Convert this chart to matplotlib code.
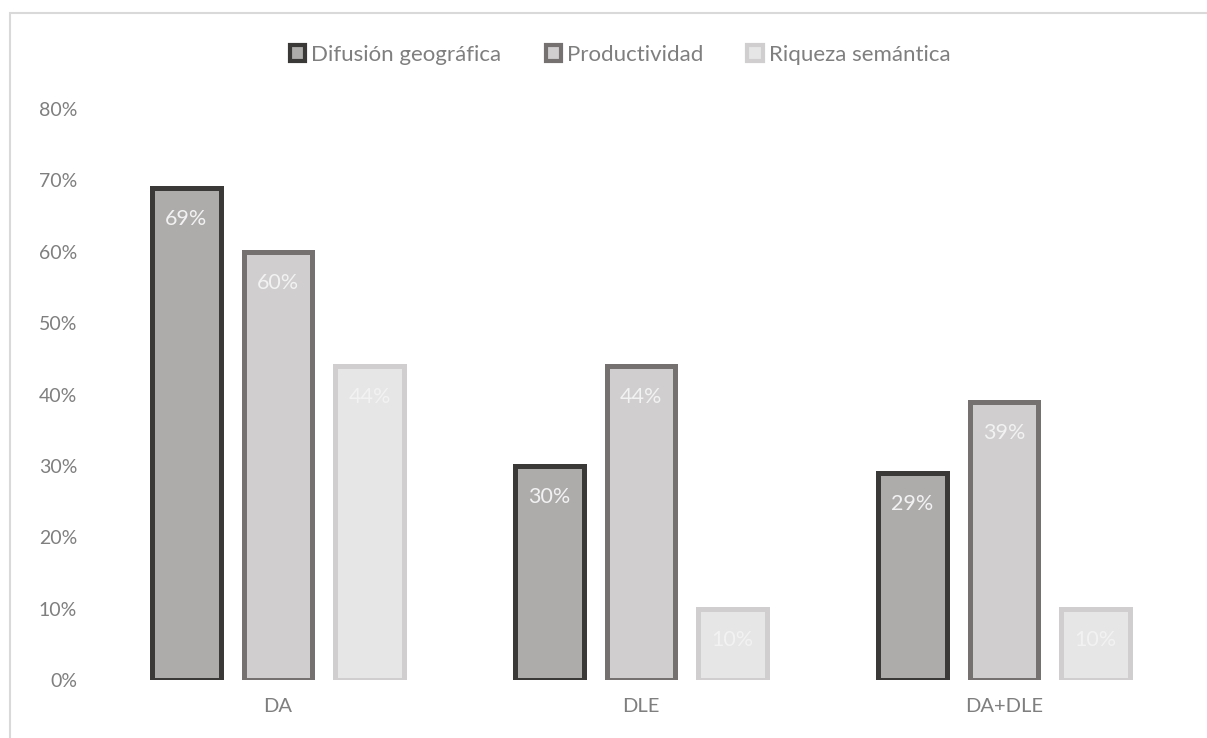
import matplotlib
matplotlib.use("Agg")
import matplotlib.pyplot as plt
from matplotlib.patches import Patch, Rectangle
import numpy as np

plt.rcParams['font.family'] = ['Lato', 'DejaVu Sans']

categories = ["DA", "DLE", "DA+DLE"]
series_names = ["Difusión geográfica", "Productividad", "Riqueza semántica"]
difusion = [0.69, 0.30, 0.29]
productividad = [0.60, 0.44, 0.39]
riqueza = [0.44, 0.10, 0.10]
yticks = [0.0, 0.1, 0.2, 0.3, 0.4, 0.5, 0.6, 0.7, 0.8]

faces = ["#AEABAB", "#D0CECE", "#E7E6E6"]
edges = ["#3B3838", "#767171", "#D0CECE"]
text_gray = "#7F7F7F"

fig = plt.figure(figsize=(12.07, 7.38), dpi=100)
ax = fig.add_axes([96.5 / 1207, 1 - 680 / 738, 1089 / 1207, (680 - 109) / 738])

x = np.arange(len(categories))
width = 0.19
step = 0.253
all_series = [difusion, productividad, riqueza]
for i, vals in enumerate(all_series):
    pos = x + (i - 1) * step
    bars = ax.bar(pos, vals, width=width, color=faces[i], edgecolor=edges[i],
                  linewidth=3.6, zorder=2)
    for b, v in zip(bars, vals):
        ax.annotate(f"{round(v * 100)}%", (b.get_x() + b.get_width() / 2, v),
                    xytext=(0, -31), textcoords="offset pixels",
                    ha="center", va="center", color="#F2F2F2", fontsize=15.5)

ax.set_xlim(-0.5, 2.5)
ax.set_ylim(0, 0.8)
ax.set_yticks(yticks)
ax.set_yticklabels([f"{int(round(t * 100))}%" for t in yticks])
ax.set_xticks(x)
ax.set_xticklabels(categories)
ax.tick_params(axis="both", length=0, colors=text_gray)
ax.tick_params(axis="y", pad=14, labelsize=14)
ax.tick_params(axis="x", pad=13, labelsize=14.5)
for s in ax.spines.values():
    s.set_visible(False)

handles = [Patch(facecolor=faces[i], edgecolor=edges[i], linewidth=3)
           for i in range(3)]
leg = fig.legend(handles, series_names, loc="center", bbox_to_anchor=(620 / 1207, 1 - 55 / 738),
                 ncol=3, frameon=False, fontsize=16, handlelength=0.7, handleheight=0.7,
                 handletextpad=0.25, columnspacing=2.0, labelcolor=text_gray)

# outer chart frame
fig.add_artist(Rectangle((10 / 1207, -0.1), 1.2, 1 - 13 / 738 + 0.1, transform=fig.transFigure,
                         fill=False, edgecolor="#D9D9D9", linewidth=1.5))

fig.savefig("out.png", dpi=100)
